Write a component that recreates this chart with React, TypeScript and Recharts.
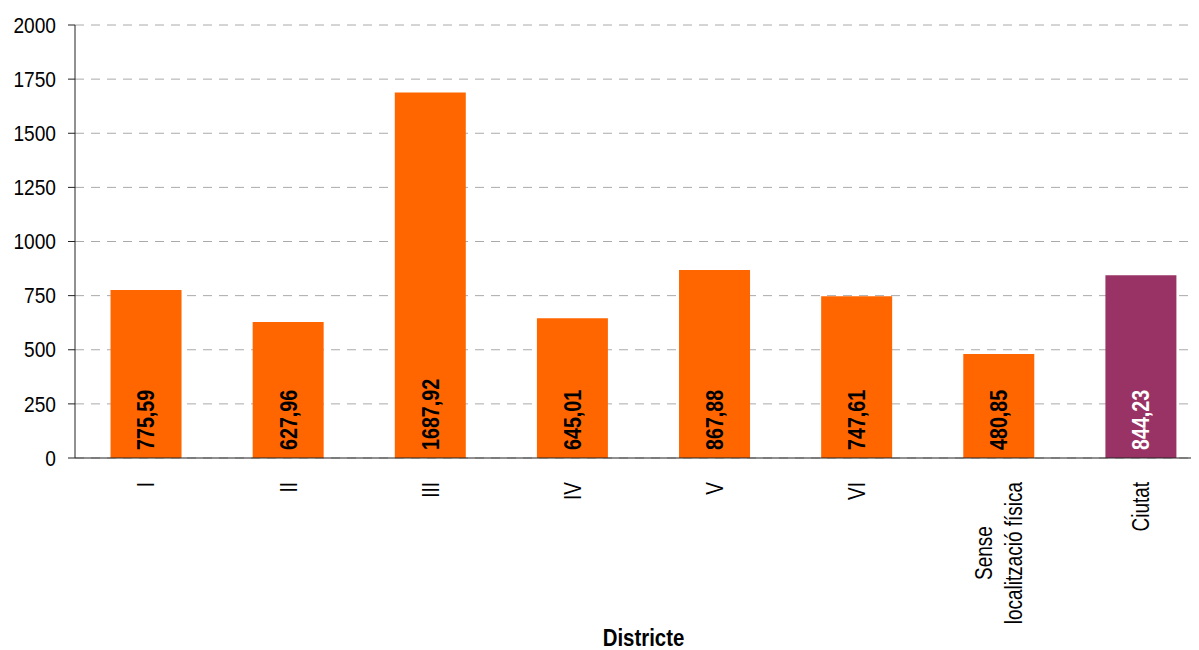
import { Bar, BarChart, CartesianGrid, Cell, LabelList, XAxis, YAxis } from 'recharts';

const districts = ['I', 'II', 'III', 'IV', 'V', 'VI', 'Sense\nlocalització física', 'Ciutat'];
const values = [775.59, 627.96, 1687.92, 645.01, 867.88, 747.61, 480.85, 844.23];
const yTicks = [0, 250, 500, 750, 1000, 1250, 1500, 1750, 2000];

const data = districts.map((name, i) => ({ name, value: values[i] }));

// Arial-metric font squeezed horizontally to look like Arial Narrow
const FONT = '"Liberation Sans", Arial, sans-serif';
const NARROW = 0.79;
const ORANGE = '#FF6600';
const PURPLE = '#993366';

let ctx: CanvasRenderingContext2D | null = null;
const measure = (text: string, font: string) => {
  if (!ctx) ctx = document.createElement('canvas').getContext('2d');
  if (!ctx) return text.length * 10;
  ctx.font = font;
  return ctx.measureText(text).width;
};

const CategoryTick = (props: any) => {
  const { x, y, payload } = props;
  const lines: string[] = String(payload.value).split('\n');
  const maxW = Math.max(...lines.map((l) => measure(l, `24px ${FONT}`))) * NARROW;
  const lineH = 30;
  return (
    <g transform={`translate(${x},${y + 16 + maxW / 2}) rotate(-90) scale(${NARROW},1)`}>
      {lines.map((l, i) => (
        <text
          key={i}
          x={0}
          y={(i - (lines.length - 1) / 2) * lineH}
          dy="0.35em"
          textAnchor="middle"
          fontFamily={FONT}
          fontSize={24}
          fill="#000"
        >
          {l}
        </text>
      ))}
    </g>
  );
};

const ValueTick = (props: any) => {
  const { x, y, payload } = props;
  return (
    <text
      transform={`translate(${x},${y}) scale(0.87,1)`}
      x={0}
      y={0}
      dy="0.35em"
      textAnchor="end"
      fontFamily={FONT}
      fontSize={22}
      fill="#000"
    >
      {payload.value}
    </text>
  );
};

const ValueLabel = (props: any) => {
  const { x, y, width, height, value, index } = props;
  const cx = x + width / 2;
  const by = y + height - 8;
  const white = districts[index] === 'Ciutat';
  return (
    <text
      transform={`translate(${cx},${by}) rotate(-90) scale(0.82,1)`}
      x={0}
      y={0}
      dy="0.35em"
      textAnchor="start"
      fontFamily={FONT}
      fontWeight="bold"
      fontSize={24}
      fill={white ? '#fff' : '#000'}
    >
      {Number(value).toFixed(2).replace('.', ',')}
    </text>
  );
};

const AxisTitle = (props: any) => {
  const { viewBox } = props;
  const cx = viewBox.x + viewBox.width / 2;
  const by = viewBox.y + viewBox.height - 4;
  return (
    <text
      transform={`translate(${cx},${by}) scale(0.85,1)`}
      textAnchor="middle"
      fontFamily={FONT}
      fontWeight="bold"
      fontSize={24}
      fill="#000"
    >
      Districte
    </text>
  );
};

export default function App() {
  return (
    <div style={{ width: 1191, height: 642, overflow: 'hidden' }}>
      <BarChart
        width={1204}
        height={642}
        data={data}
        barCategoryGap="25%"
        margin={{ top: 17, right: 0, left: 0, bottom: 0 }}
      >
        <CartesianGrid vertical={false} stroke="#aaaaaa" strokeDasharray="9 7" />
        <XAxis
          dataKey="name"
          interval={0}
          tickLine={false}
          stroke="#222"
          height={192}
          tick={<CategoryTick />}
          label={<AxisTitle />}
        />
        <YAxis
          width={67}
          domain={[0, 2000]}
          ticks={yTicks}
          interval={0}
          stroke="#222"
          tickSize={7}
          tickMargin={12}
          tick={<ValueTick />}
        />
        <Bar dataKey="value" isAnimationActive={false}>
          {data.map((d) => (
            <Cell key={d.name} fill={d.name === 'Ciutat' ? PURPLE : ORANGE} />
          ))}
          <LabelList dataKey="value" content={<ValueLabel />} />
        </Bar>
      </BarChart>
    </div>
  );
}
